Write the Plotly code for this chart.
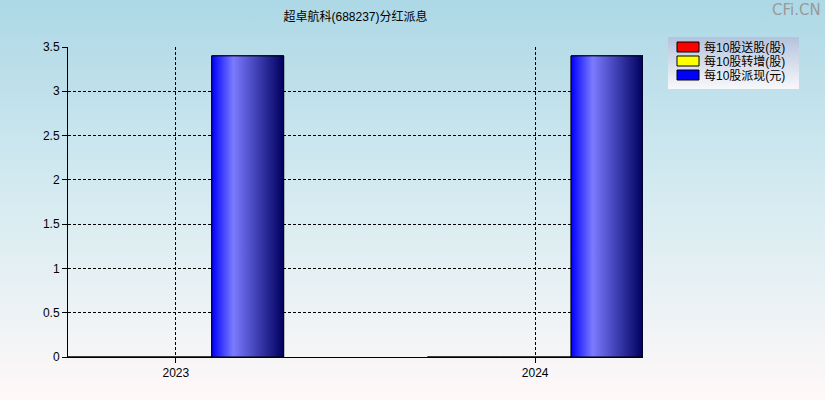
import base64

import plotly.graph_objects as go

# data
years = ["2023", "2024"]
series_names = ["每10股送股(股)", "每10股转增(股)", "每10股派现(元)"]
series_colors = ["#FF0000", "#FFFF00", "#0000FF"]
song_gu = [0, 0]
zhuan_zeng = [0, 0]
pai_xian = [3.4, 3.4]

title_text = "超卓航科(688237)分红派息"
y_ticks = [0, 0.5, 1, 1.5, 2, 2.5, 3, 3.5]

W, H = 825, 400
M = dict(l=68, r=182, t=47, b=43)
FONT = "'Liberation Sans', Arial, 'Noto Sans CJK SC', sans-serif"

BAR_W = 0.2
BLUE_SCALE = [[0, "#0000FF"], [0.3, "#7B7BFF"], [0.65, "#3C3CB0"], [1, "#00005E"]]

pw = W - M["l"] - M["r"]
ph = H - M["t"] - M["b"]


def px_x(px):
    return (px - M["l"]) / pw


def px_y(py):
    return (H - M["b"] - py) / ph


# page background: vertical gradient plus the legend panel, as one svg image
bg_svg = f"""<svg xmlns='http://www.w3.org/2000/svg' width='{W}' height='{H}' viewBox='0 0 {W} {H}' preserveAspectRatio='none'>
<defs>
<linearGradient id='g' x1='0' y1='0' x2='0' y2='1'>
<stop offset='0' stop-color='#ADD8E6'/><stop offset='0.5' stop-color='#D6EBF1'/><stop offset='1' stop-color='#FFF8F8'/>
</linearGradient>
<linearGradient id='l' x1='0' y1='0' x2='0' y2='1'>
<stop offset='0' stop-color='#B3C3DD'/><stop offset='1' stop-color='#F8F8FA'/>
</linearGradient>
</defs>
<rect x='0' y='0' width='{W}' height='{H}' fill='url(#g)'/>
<rect x='668' y='37' width='131' height='52' fill='url(#l)'/>
</svg>"""
bg_uri = "data:image/svg+xml;base64," + base64.b64encode(bg_svg.encode()).decode()

x_idx = list(range(len(years)))

fig = go.Figure()
for name, vals, color in zip(series_names, [song_gu, zhuan_zeng, pai_xian], series_colors):
    fig.add_trace(go.Bar(
        x=x_idx, y=vals, name=name, width=BAR_W, showlegend=False,
        marker=dict(color=color, line=dict(color="black", width=1)),
    ))

# gradient face of the cash-dividend bars (third bar of each group)
for i, v in zip(x_idx, pai_xian):
    if v <= 0:
        continue
    x0 = i + BAR_W / 2
    x1 = i + BAR_W * 1.5
    fig.add_trace(go.Scatter(
        x=[x0, x1, x1, x0, x0], y=[0, 0, v, v, 0],
        mode="lines", fill="toself",
        fillgradient=dict(type="horizontal", colorscale=BLUE_SCALE),
        line=dict(color="black", width=1),
        showlegend=False, hoverinfo="skip",
    ))

# legend drawn by hand to match the compact boxed swatches
shapes = []
annotations = []
for k, (name, color) in enumerate(zip(series_names, series_colors)):
    cy = 47 + 14 * k
    shapes.append(dict(type="rect", xref="paper", yref="paper",
                       x0=px_x(677), x1=px_x(699), y0=px_y(cy - 5), y1=px_y(cy + 5),
                       fillcolor=color, line=dict(color="black", width=1)))
    annotations.append(dict(text=name, xref="paper", yref="paper",
                            x=px_x(702), y=px_y(cy), xanchor="left", yanchor="middle",
                            showarrow=False, font=dict(size=12, color="black")))

annotations.append(dict(text="CFi.CN", xref="paper", yref="paper",
                        x=px_x(W - 2), y=px_y(10),
                        xanchor="right", yanchor="middle", showarrow=False,
                        font=dict(size=15, color="#9A9A9A",
                                  family="'DejaVu Sans', sans-serif")))

axis_common = dict(
    showline=True, linecolor="black", linewidth=1,
    ticks="outside", ticklen=5, tickcolor="black",
    showgrid=True, gridcolor="black", gridwidth=1, griddash="3px,2px",
    zeroline=False, tickfont=dict(size=12, color="black"),
)

fig.update_layout(
    width=W, height=H,
    margin=M,
    barmode="group", bargap=0.4, bargroupgap=0,
    showlegend=False,
    paper_bgcolor="rgba(0,0,0,0)", plot_bgcolor="rgba(0,0,0,0)",
    font=dict(family=FONT, size=12, color="black"),
    title=dict(text=title_text, x=0.5, xref="paper", xanchor="center",
               y=1 - 17 / H, yanchor="middle", font=dict(size=12)),
    xaxis=dict(axis_common, range=[-0.3, 1.3], tickvals=x_idx, ticktext=years),
    yaxis=dict(axis_common, range=[0, 3.5], tickvals=y_ticks,
               ticktext=[f"{t:g}" for t in y_ticks]),
    shapes=shapes,
    annotations=annotations,
    images=[dict(source=bg_uri, xref="paper", yref="paper",
                 x=-M["l"] / pw, y=1 + M["t"] / ph,
                 sizex=W / pw, sizey=H / ph,
                 xanchor="left", yanchor="top",
                 sizing="stretch", layer="below")],
)

fig.write_html("out.html", config={"displayModeBar": False},
               post_script="document.body.style.margin='0';")
